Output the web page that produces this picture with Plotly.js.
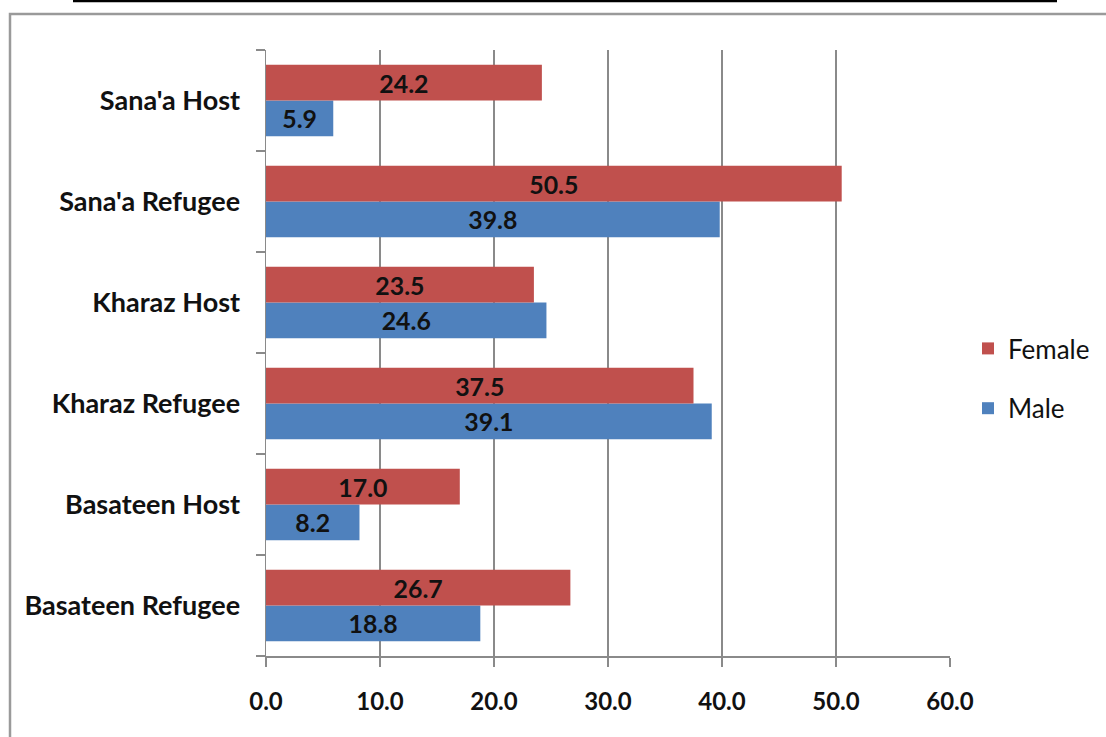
<!DOCTYPE html>
<html>
<head>
<meta charset="utf-8">
<script src="https://cdn.plot.ly/plotly-3.0.1.min.js"></script>
<style>html,body{margin:0;padding:0;background:#fff;}#chart{width:1106px;height:737px;}</style>
</head>
<body>
<div id="chart"></div>
<script>
// Data (bottom to top order on the axis)
var categories = ["Basateen Refugee", "Basateen Host", "Kharaz Refugee", "Kharaz Host", "Sana'a Refugee", "Sana'a Host"];
var femaleValues = [26.7, 17.0, 37.5, 23.5, 50.5, 24.2];
var maleValues = [18.8, 8.2, 39.1, 24.6, 39.8, 5.9];
var xTickValues = [0, 10, 20, 30, 40, 50, 60];
var xTickLabels = ["0.0", "10.0", "20.0", "30.0", "40.0", "50.0", "60.0"];

var W = 1106, H = 737;
var L = 266, R = 950, T = 50, B = 656;
function px(x) { return (x - L) / (R - L); }
function py(y) { return (B - y) / (B - T); }

var FONT = "Lato, 'Open Sans', sans-serif";

var male = {
  type: "bar", orientation: "h", name: "Male",
  y: categories, x: maleValues,
  marker: {color: "#4F81BD"},
  text: maleValues.map(function(v){ return v.toFixed(1); }),
  textposition: "inside", insidetextanchor: "middle",
  textfont: {family: FONT, size: 25, color: "#111", weight: "bold"},
  legendgroup: "m", legendrank: 2, hoverinfo: "x+name"
};
var female = {
  type: "bar", orientation: "h", name: "Female",
  y: categories, x: femaleValues,
  marker: {color: "#C0504D"},
  text: femaleValues.map(function(v){ return v.toFixed(1); }),
  textposition: "inside", insidetextanchor: "middle",
  textfont: {family: FONT, size: 25, color: "#111", weight: "bold"},
  legendgroup: "f", legendrank: 1, hoverinfo: "x+name"
};

var layout = {
  width: W, height: H,
  margin: {l: L, r: W - R, t: T, b: H - B, pad: 0, autoexpand: false},
  paper_bgcolor: "#fff", plot_bgcolor: "#fff",
  barmode: "group", bargap: 0.29, bargroupgap: 0,
  font: {family: FONT, color: "#111"},
  xaxis: {
    range: [0, 60], tickvals: xTickValues, ticktext: xTickLabels,
    showgrid: true, gridcolor: "#8a8a8a", gridwidth: 1.5,
    zeroline: false, showline: true, linecolor: "#8a8a8a", linewidth: 1.5,
    ticks: "outside", ticklen: 9, tickcolor: "#8a8a8a", tickwidth: 1.5,
    ticklabelstandoff: 15, automargin: false,
    tickfont: {family: FONT, size: 24, color: "#111", weight: "bold"},
    fixedrange: true
  },
  yaxis: {
    type: "category", categoryorder: "array", categoryarray: categories,
    showgrid: false, zeroline: false, showline: true, linecolor: "#8a8a8a", linewidth: 1.5,
    ticks: "outside", tickson: "boundaries", ticklen: 9, tickcolor: "#8a8a8a", tickwidth: 1.5,
    ticklabelstandoff: 19, automargin: false,
    tickfont: {family: FONT, size: 27, color: "#111", weight: "bold"},
    fixedrange: true
  },
  legend: {
    x: px(968), y: py(325), xanchor: "left", yanchor: "top",
    traceorder: "grouped", tracegroupgap: 23,
    font: {family: FONT, size: 26, color: "#111"},
    bgcolor: "rgba(0,0,0,0)", itemwidth: 30
  },
  showlegend: true,
  shapes: [
    {type: "line", xref: "paper", yref: "paper", x0: px(73), x1: px(1057), y0: py(1), y1: py(1),
     line: {color: "#000", width: 2.5}},
    {type: "rect", xref: "paper", yref: "paper", x0: px(10), x1: px(1120), y0: py(14), y1: py(760),
     line: {color: "#9a9a9a", width: 2.5}, fillcolor: "rgba(0,0,0,0)", layer: "below"}
  ]
};

Plotly.newPlot("chart", [male, female], layout, {displayModeBar: false, staticPlot: true});
</script>
</body>
</html>
